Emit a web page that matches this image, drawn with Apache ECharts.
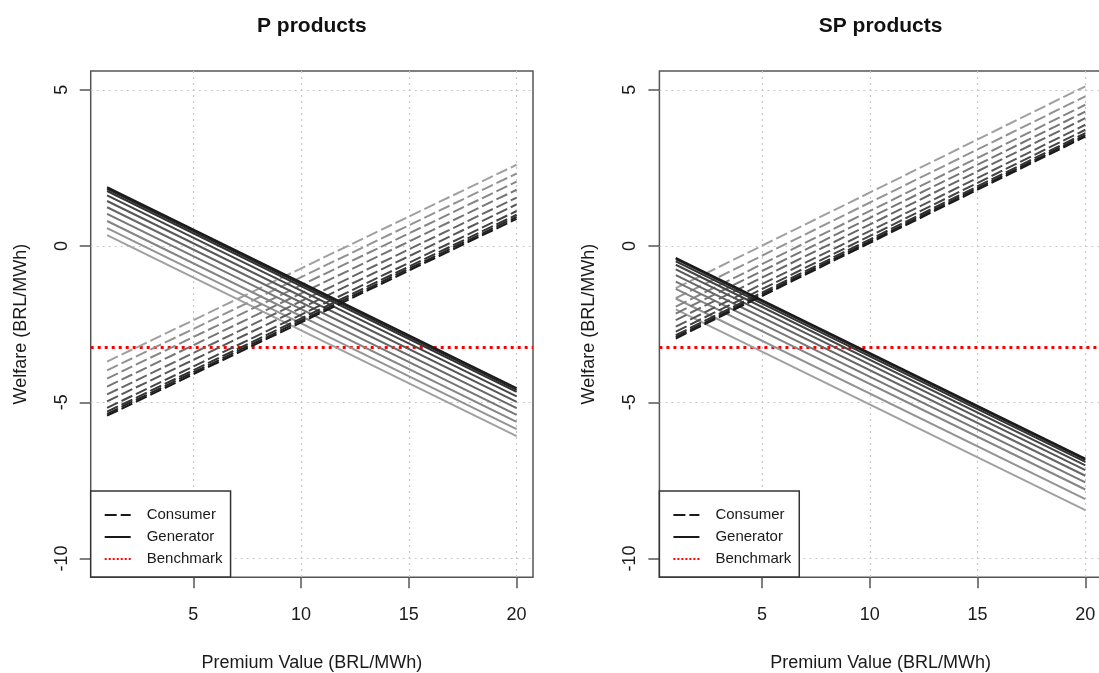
<!DOCTYPE html>
<html>
<head>
<meta charset="utf-8">
<script src="https://cdn.jsdelivr.net/npm/echarts@6/dist/echarts.min.js"></script>
<style>
  html, body { margin: 0; padding: 0; background: #fff; }
  #chart { width: 1099px; height: 673px; }
</style>
</head>
<body>
<div id="chart"></div>
<script>
// Welfare of consumers and generators against the premium value, two product types.
const panelTitles = ['P products', 'SP products'];
const xTicks = [5, 10, 15, 20];
const yTicks = [-10, -5, 0, 5];
const premiumRange = [1, 20];      // premium values (BRL/MWh) at the ends of every line
const welfareRange = [-10, 5];
const benchmark = -3.25;

// Welfare (BRL/MWh) at premium 1 and premium 20, darkest line first.
const pConsumerStart  = [-5.43, -5.37, -5.30, -5.18, -4.97, -4.75, -4.50, -4.24, -3.98, -3.70];
const pConsumerEnd    = [ 0.87,  0.93,  1.00,  1.12,  1.33,  1.55,  1.80,  2.06,  2.32,  2.60];
const pGeneratorStart = [ 1.88,  1.83,  1.76,  1.62,  1.44,  1.24,  1.03,  0.80,  0.57,  0.35];
const pGeneratorEnd   = [-4.55, -4.60, -4.67, -4.81, -4.99, -5.19, -5.40, -5.63, -5.86, -6.08];

const spConsumerStart  = [-2.96, -2.91, -2.85, -2.74, -2.58, -2.37, -2.16, -1.94, -1.67, -1.35];
const spConsumerEnd    = [ 3.50,  3.55,  3.61,  3.72,  3.88,  4.09,  4.30,  4.52,  4.79,  5.11];
const spGeneratorStart = [-0.38, -0.42, -0.49, -0.60, -0.75, -0.93, -1.14, -1.37, -1.68, -2.03];
const spGeneratorEnd   = [-6.80, -6.84, -6.91, -7.02, -7.17, -7.35, -7.56, -7.79, -8.10, -8.45];

// grey ramp, darkest first
const shades = ['#1a1a1a', '#262626', '#333333', '#454545', '#575757', '#676767', '#767676', '#858585', '#939393', '#a0a0a0'];

const FONT = '"Liberation Sans", Arial, Helvetica, sans-serif';
const TEXT = '#1a1a1a';
const FRAME = '#555555';

const gridLeft = [90.7, 659.4];
const gridTop = 71;
const gridW = 442.3;
const gridH = 506.3;

// base-R style axis padding: 4% of the data range on each side
function padded(r) {
  const p = (r[1] - r[0]) * 0.04;
  return [r[0] - p, r[1] + p];
}
const xLim = padded(premiumRange);
const yLim = padded(welfareRange);

const panels = [
  { cs: pConsumerStart, ce: pConsumerEnd, gs: pGeneratorStart, ge: pGeneratorEnd },
  { cs: spConsumerStart, ce: spConsumerEnd, gs: spGeneratorStart, ge: spGeneratorEnd }
];

function welfareLines(p, name, starts, ends, dashed) {
  return starts.map((s, i) => ({
    type: 'line',
    name: name,
    xAxisIndex: p,
    yAxisIndex: p,
    data: [[premiumRange[0], s], [premiumRange[1], ends[i]]],
    symbol: 'none',
    silent: true,
    z: 20 - i,
    itemStyle: { color: shades[i] },
    lineStyle: {
      color: shades[i],
      width: 2,
      type: dashed ? [12, 4] : 'solid',
      cap: 'butt'
    }
  }));
}

const series = [];
panels.forEach((d, p) => {
  series.push(...welfareLines(p, 'Consumer', d.cs, d.ce, true));
  series.push(...welfareLines(p, 'Generator', d.gs, d.ge, false));
  series.push({
    type: 'line',
    name: 'Benchmark',
    xAxisIndex: p,
    yAxisIndex: p,
    data: [],
    symbol: 'none',
    silent: true,
    z: 30,
    itemStyle: { color: '#ff0000' },
    lineStyle: { color: '#ff0000', width: 1.5, type: [2, 2] },
    markLine: {
      silent: true,
      symbol: 'none',
      animation: false,
      label: { show: false },
      lineStyle: { color: '#ff0000', width: 3, type: [3, 4], cap: 'butt' },
      data: [{ yAxis: benchmark }]
    }
  });
});

const chart = echarts.init(document.getElementById('chart'), null, { renderer: 'canvas' });

chart.setOption({
  animation: false,
  backgroundColor: '#ffffff',
  title: panelTitles.map((t, p) => ({
    text: t,
    left: gridLeft[p] + gridW / 2,
    top: 16,
    textAlign: 'center',
    padding: 0,
    textStyle: { fontFamily: FONT, fontSize: 21, fontWeight: 'bold', color: '#111' }
  })),
  grid: gridLeft.map(l => ({
    left: l,
    top: gridTop,
    width: gridW,
    height: gridH,
    outerBoundsMode: 'none',
    containLabel: false,
    show: true,
    borderColor: FRAME,
    borderWidth: 1.5,
    backgroundColor: 'transparent'
  })),
  legend: gridLeft.map(l => ({
    orient: 'vertical',
    left: l,
    top: 491,
    z: 40,
    selectedMode: false,
    data: ['Consumer', 'Generator', 'Benchmark'],
    itemWidth: 26,
    itemHeight: 14,
    itemGap: 6,
    padding: [16, 8, 10, 13],
    borderColor: '#333',
    borderWidth: 1.5,
    borderRadius: 0,
    backgroundColor: '#ffffff',
    itemStyle: { opacity: 0 },
    textStyle: { fontFamily: FONT, fontSize: 15, lineHeight: 16, color: TEXT, padding: [0, 0, 0, 11] }
  })),
  xAxis: gridLeft.map((l, p) => ({
    type: 'value',
    gridIndex: p,
    min: xLim[0],
    max: xLim[1],
    name: 'Premium Value (BRL/MWh)',
    nameLocation: 'middle',
    nameGap: 77,
    nameTextStyle: { fontFamily: FONT, fontSize: 18, color: TEXT },
    axisLine: { show: false, onZero: false },
    axisTick: { show: true, length: 11, customValues: xTicks, lineStyle: { color: FRAME, width: 1.5 } },
    axisLabel: { customValues: xTicks, margin: 29, fontFamily: FONT, fontSize: 18, color: TEXT },
    splitLine: { show: true, lineStyle: { color: '#c8c8c8', width: 1.2, type: [2, 4] } }
  })),
  yAxis: gridLeft.map((l, p) => ({
    type: 'value',
    gridIndex: p,
    min: yLim[0],
    max: yLim[1],
    name: 'Welfare (BRL/MWh)',
    nameLocation: 'middle',
    nameGap: 61,
    nameRotate: 90,
    nameTextStyle: { fontFamily: FONT, fontSize: 18, color: TEXT },
    axisLine: { show: false, onZero: false },
    axisTick: { show: true, length: 11, customValues: yTicks, lineStyle: { color: FRAME, width: 1.5 } },
    axisLabel: { customValues: yTicks, rotate: 90, margin: 20, fontFamily: FONT, fontSize: 18, color: TEXT },
    splitLine: { show: true, lineStyle: { color: '#c8c8c8', width: 1.2, type: [2, 4] } }
  })),
  series: series
});
</script>
</body>
</html>
